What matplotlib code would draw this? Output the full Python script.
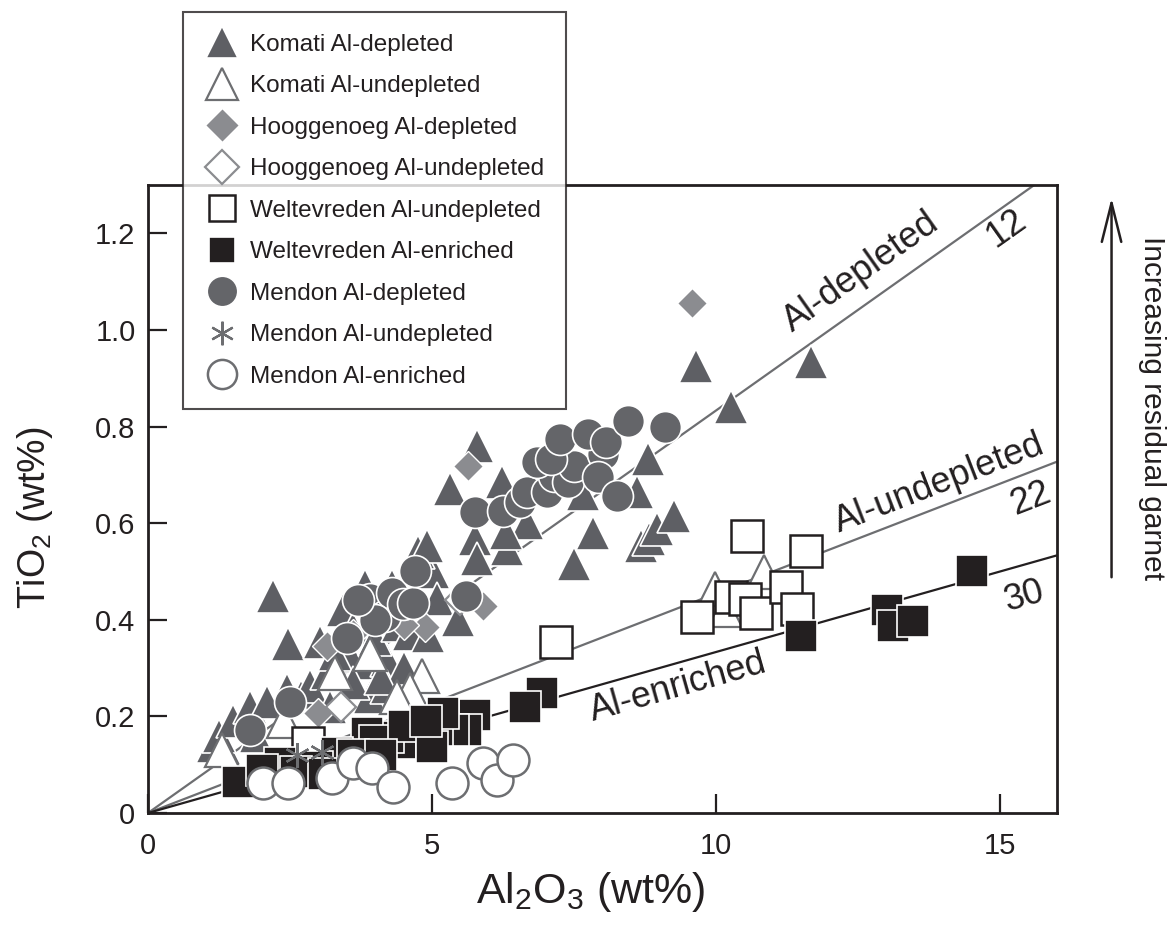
import numpy as np
import matplotlib
matplotlib.use("Agg")
import matplotlib.pyplot as plt
from matplotlib.lines import Line2D
from matplotlib.ticker import FixedLocator, FixedFormatter

plt.rcParams['font.family'] = ['Liberation Sans', 'DejaVu Sans']
plt.rcParams['mathtext.fontset'] = 'custom'
plt.rcParams['mathtext.rm'] = 'Liberation Sans'
plt.rcParams['mathtext.it'] = 'Liberation Sans:italic'

# Al2O3 and TiO2 (wt%) for each group
komati_dep_al = [1.15, 1.33, 1.25, 1.5, 1.8, 2.2, 2.47, 2.44, 2.1, 2.7, 2.85, 3.15, 3.03, 3.2,
                 3.55, 3.3, 3.43, 3.6, 3.82, 3.85, 3.9, 4.2, 4.0, 4.4, 4.6, 4.93, 5.02, 5.08,
                 4.75, 4.91, 4.3, 5.32, 5.79, 5.76, 5.79, 5.46, 6.23, 6.32, 6.67, 6.3, 7.49,
                 7.66, 7.84, 8.6, 8.8, 8.68, 8.82, 8.96, 9.25, 9.65, 10.27, 11.67, 4.2, 3.6,
                 2.6, 1.9, 4.5, 4.1]
komati_dep_ti = [0.138, 0.135, 0.16, 0.19, 0.22, 0.45, 0.35, 0.255, 0.23, 0.24, 0.262, 0.29,
                 0.353, 0.22, 0.324, 0.33, 0.421, 0.38, 0.469, 0.311, 0.241, 0.317, 0.36, 0.39,
                 0.37, 0.366, 0.498, 0.442, 0.54, 0.553, 0.47, 0.67, 0.76, 0.567, 0.525, 0.40,
                 0.685, 0.546, 0.60, 0.58, 0.515, 0.66, 0.58, 0.664, 0.733, 0.552, 0.567,
                 0.587, 0.615, 0.926, 0.84, 0.934, 0.26, 0.27, 0.2, 0.16, 0.3, 0.28]

komati_undep_al = [4.82, 4.61, 4.38, 9.98, 10.85, 10.16, 2.7, 3.3, 3.9, 2.4, 1.3]
komati_undep_ti = [0.283, 0.255, 0.241, 0.463, 0.498, 0.42, 0.21, 0.29, 0.33, 0.19, 0.13]

hoog_dep_al = [9.58, 5.63, 5.9, 4.88, 3.15, 2.99, 4.5, 3.6]
hoog_dep_ti = [1.055, 0.718, 0.428, 0.386, 0.345, 0.207, 0.39, 0.37]

hoog_undep_al = [3.4, 4.4, 5.5]
hoog_undep_ti = [0.22, 0.42, 0.44]

welt_undep_al = [7.18, 9.67, 10.27, 10.5, 10.55, 10.7, 11.23, 11.43, 11.58, 2.82]
welt_undep_ti = [0.353, 0.405, 0.447, 0.443, 0.573, 0.415, 0.467, 0.423, 0.542, 0.145]

welt_enr_al = [14.5, 13.0, 13.12, 13.47, 11.5, 6.94, 6.64, 5.76, 5.6, 5.37, 5.08, 5.2, 4.67,
               4.44, 4.22, 3.86, 4.0, 4.5, 3.33, 2.97, 2.33, 1.58, 2.0, 2.6, 3.1, 3.6, 4.1,
               5.0, 4.9]
welt_enr_ti = [0.50, 0.42, 0.387, 0.397, 0.366, 0.249, 0.22, 0.203, 0.172, 0.172, 0.172,
               0.207, 0.145, 0.145, 0.158, 0.166, 0.15, 0.18, 0.124, 0.096, 0.104, 0.064,
               0.09, 0.085, 0.08, 0.12, 0.12, 0.137, 0.19]

mendon_dep_al = [1.8, 2.5, 3.5, 3.9, 4.17, 4.3, 4.49, 4.67, 4.7, 5.6, 5.76, 6.25, 6.55, 6.67,
                 7.02, 7.14, 7.39, 7.49, 6.85, 7.1, 8.0, 7.92, 8.25, 7.25, 7.75, 8.07, 8.45,
                 9.1, 4.0, 3.7]
mendon_dep_ti = [0.172, 0.23, 0.363, 0.442, 0.407, 0.456, 0.432, 0.435, 0.5, 0.45, 0.623,
                 0.625, 0.643, 0.664, 0.664, 0.698, 0.685, 0.718, 0.726, 0.733, 0.743, 0.695,
                 0.656, 0.774, 0.785, 0.768, 0.812, 0.80, 0.40, 0.44]

mendon_undep_al = [2.62, 3.06]
mendon_undep_ti = [0.12, 0.127]

mendon_enr_al = [2.03, 2.47, 3.24, 3.6, 3.94, 4.32, 5.35, 5.9, 6.14, 6.43]
mendon_enr_ti = [0.062, 0.062, 0.073, 0.104, 0.093, 0.054, 0.062, 0.104, 0.069, 0.11]

# Al2O3/TiO2 reference ratios
ratios = [12, 22, 30]

TRI = '#5e5f64'
CIRC = '#646569'
DIAM = '#8b8c90'
BLK = '#231f20'
OPEN = '#6d6e71'

groups = [
    ('Komati Al-depleted', komati_dep_al, komati_dep_ti,
     dict(marker='^', ms=25, mfc=TRI, mec='white', mew=1.2), 23),
    ('Komati Al-undepleted', komati_undep_al, komati_undep_ti,
     dict(marker='^', ms=25, mfc='white', mec=OPEN, mew=1.6), 23),
    ('Hooggenoeg Al-depleted', hoog_dep_al, hoog_dep_ti,
     dict(marker='D', ms=15, mfc=DIAM, mec='white', mew=1.0), 17),
    ('Hooggenoeg Al-undepleted', hoog_undep_al, hoog_undep_ti,
     dict(marker='D', ms=15, mfc='white', mec=DIAM, mew=1.6), 17),
    ('Weltevreden Al-undepleted', welt_undep_al, welt_undep_ti,
     dict(marker='s', ms=23, mfc='white', mec=BLK, mew=1.8), 19),
    ('Weltevreden Al-enriched', welt_enr_al, welt_enr_ti,
     dict(marker='s', ms=23, mfc=BLK, mec='white', mew=1.2), 19),
    ('Mendon Al-depleted', mendon_dep_al, mendon_dep_ti,
     dict(marker='o', ms=23, mfc=CIRC, mec='white', mew=1.2), 22),
    ('Mendon Al-undepleted', mendon_undep_al, mendon_undep_ti,
     dict(marker=(6, 2, 0), ms=18, mfc=OPEN, mec=OPEN, mew=1.6), 17),
    ('Mendon Al-enriched', mendon_enr_al, mendon_enr_ti,
     dict(marker='o', ms=23, mfc='white', mec=OPEN, mew=1.8), 21),
]
draw_order = [0, 1, 2, 3, 6, 4, 5, 8, 7]

fig = plt.figure(figsize=(11.69, 9.27), dpi=100)
ax = fig.add_axes([148 / 1169, 114 / 927, 909 / 1169, 628 / 927])

xs = np.array([0, 16.0])
line_cols = ['#6d6e71', '#6d6e71', BLK]
for r, c in zip(ratios, line_cols):
    ax.plot(xs, xs / r, color=c, lw=1.6, zorder=2, solid_capstyle='butt')

for z, i in enumerate(draw_order):
    name, al, ti, st, _ = groups[i]
    ax.plot(al, ti, ls='none', zorder=3 + z, **st)

ax.set_xlim(0, 16)
ax.set_ylim(0, 1.3)
ax.xaxis.set_major_locator(FixedLocator([0, 5, 10, 15]))
ax.yaxis.set_major_locator(FixedLocator([0, 0.2, 0.4, 0.6, 0.8, 1.0, 1.2]))
ax.yaxis.set_major_formatter(FixedFormatter(['0', '0.2', '0.4', '0.6', '0.8', '1.0', '1.2']))
ax.tick_params(direction='in', length=14, width=1.6, labelsize=21, colors=BLK)
ax.tick_params(axis='x', pad=14)
ax.tick_params(axis='y', pad=9)
for s in ax.spines.values():
    s.set_linewidth(2.0)
    s.set_color(BLK)

ax.set_xlabel('Al$_2$O$_3$ (wt%)', fontsize=31, color=BLK)
ax.set_ylabel('TiO$_2$ (wt%)', fontsize=27, color=BLK)
ax.xaxis.set_label_coords(0.487, -0.09)
ax.yaxis.set_label_coords(-0.102, 0.47)

# ratio line labels
def on_line(text, x, y, r, size):
    ang = np.degrees(np.arctan(1.0 / r))
    ax.text(x, y, text, fontsize=size, color=BLK, ha='center', va='center',
            rotation=ang, rotation_mode='anchor', transform_rotates_text=True, zorder=30)

on_line('Al-depleted', 12.55, 1.12, 12, 26)
on_line('12', 15.1, 1.21, 12, 26)
on_line('Al-undepleted', 13.93, 0.681, 22, 26)
on_line('22', 15.53, 0.65, 22, 26)
on_line('Al-enriched', 9.33, 0.26, 30, 26)
on_line('30', 15.42, 0.449, 30, 26)

ax.annotate('', xy=(1.06, 0.984), xytext=(1.06, 0.371), xycoords='axes fraction',
            arrowprops=dict(arrowstyle='->,head_length=1.4,head_width=0.35',
                            mutation_scale=20, lw=1.8, color=BLK),
            annotation_clip=False)
ax.text(1.104, 0.645, 'Increasing residual garnet', transform=ax.transAxes,
        rotation=-90, ha='center', va='center', fontsize=21.5, color=BLK)

handles = []
for name, al, ti, st, lms in groups:
    hs = dict(st)
    hs['ms'] = lms
    handles.append(Line2D([], [], ls='none', label=name, **hs))

leg = fig.legend(handles=handles, loc='upper left',
                 bbox_to_anchor=(183 / 1169, 1 - 12 / 927), bbox_transform=fig.transFigure,
                 fontsize=17.5, frameon=True, fancybox=False, borderaxespad=0,
                 labelspacing=0.8, handletextpad=0.4, borderpad=0.9, handlelength=1.45)
leg.get_frame().set_edgecolor(BLK)
leg.get_frame().set_linewidth(1.5)
leg.set_zorder(40)
for t in leg.get_texts():
    t.set_color(BLK)

fig.savefig('out.png', dpi=100)
